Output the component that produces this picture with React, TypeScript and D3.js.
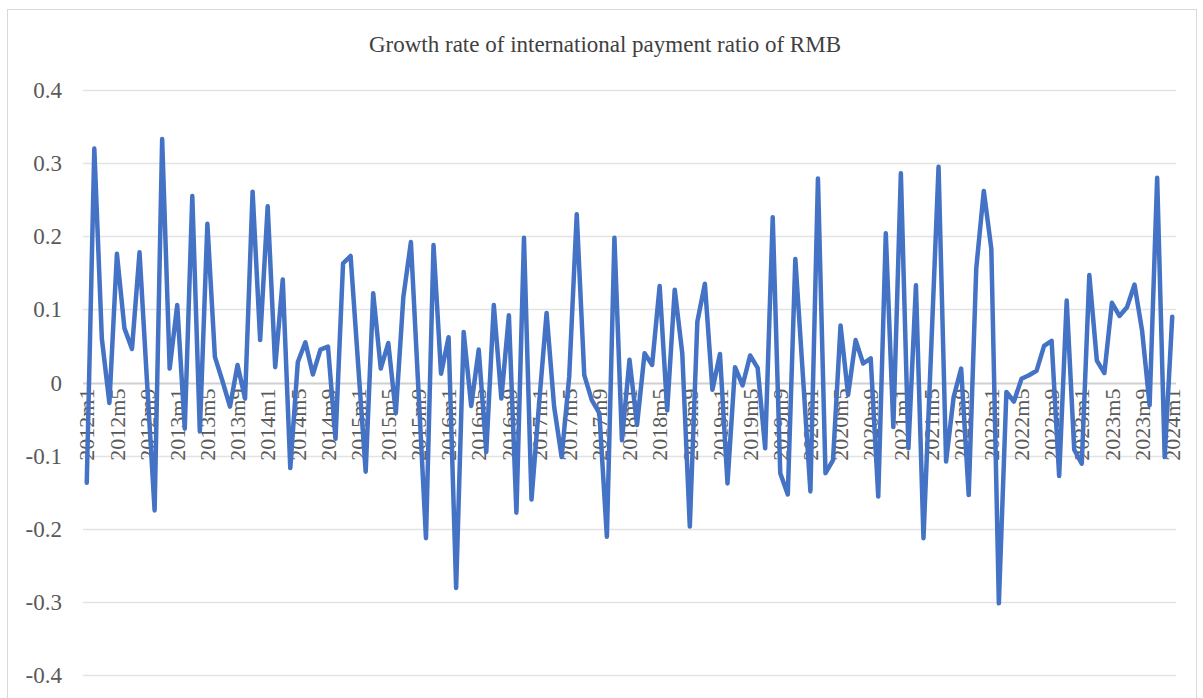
import React, { useEffect, useRef } from "react";
import * as d3 from "d3";

// monthly growth rate, one array per year
const values2012 = [-0.137, 0.32, 0.06, -0.028, 0.176, 0.074, 0.046, 0.178, 0.0, -0.175, 0.333, 0.019];
const values2013 = [0.106, -0.063, 0.255, -0.067, 0.217, 0.035, 0.002, -0.033, 0.024, -0.022, 0.261, 0.058];
const values2014 = [0.241, 0.021, 0.141, -0.117, 0.028, 0.055, 0.011, 0.045, 0.049, -0.077, 0.163, 0.173];
const values2015 = [0.025, -0.122, 0.122, 0.019, 0.054, -0.042, 0.117, 0.192, -0.01, -0.213, 0.188, 0.012];
const values2016 = [0.062, -0.281, 0.069, -0.032, 0.045, -0.095, 0.106, -0.022, 0.092, -0.178, 0.198, -0.16];
const values2017 = [-0.03, 0.095, -0.033, -0.102, 0.008, 0.23, 0.01, -0.024, -0.042, -0.211, 0.198, -0.079];
const values2018 = [0.031, -0.058, 0.04, 0.024, 0.132, -0.038, 0.127, 0.04, -0.197, 0.083, 0.135, -0.01];
const values2019 = [0.039, -0.138, 0.021, -0.004, 0.037, 0.02, -0.09, 0.226, -0.124, -0.153, 0.169, 0.01];
const values2020 = [-0.149, 0.279, -0.124, -0.106, 0.078, -0.017, 0.058, 0.026, 0.033, -0.156, 0.204, -0.061];
const values2021 = [0.286, -0.09, 0.133, -0.213, 0.04, 0.295, -0.108, -0.02, 0.019, -0.154, 0.156, 0.262];
const values2022 = [0.183, -0.302, -0.013, -0.026, 0.005, 0.01, 0.016, 0.05, 0.057, -0.128, 0.112, -0.092];
const values2023 = [-0.111, 0.147, 0.03, 0.013, 0.109, 0.091, 0.103, 0.134, 0.071, -0.031, 0.28, -0.102];
const values2024 = [0.09];

const years = [2012, 2013, 2014, 2015, 2016, 2017, 2018, 2019, 2020, 2021, 2022, 2023, 2024];
const yTicks = [0.4, 0.3, 0.2, 0.1, 0, -0.1, -0.2, -0.3, -0.4];
const title = "Growth rate of international payment ratio of RMB";

const series = [
  values2012, values2013, values2014, values2015, values2016, values2017, values2018,
  values2019, values2020, values2021, values2022, values2023, values2024,
];

const W = 1203;
const H = 698;
const margin = { left: 83, right: 1176, top: 90, bottom: 675 };
const font = "'Liberation Serif', 'Times New Roman', serif";

const App = () => {
  const ref = useRef<SVGSVGElement>(null);

  useEffect(() => {
    const svg = d3.select(ref.current);
    svg.selectAll("*").remove();

    // categories like 2012m1 ... 2024m1
    const cats: string[] = [];
    const vals: number[] = [];
    series.forEach((arr, yi) => {
      arr.forEach((v, mi) => {
        cats.push(`${years[yi]}m${mi + 1}`);
        vals.push(v);
      });
    });

    const x = d3.scaleBand<string>().domain(cats).range([margin.left, margin.right]);
    const cx = (c: string) => (x(c) as number) + x.bandwidth() / 2;
    const y = d3.scaleLinear().domain([-0.4, 0.4]).range([margin.bottom, margin.top]);

    // frame
    svg
      .append("rect")
      .attr("x", 7.5)
      .attr("y", 9.5)
      .attr("width", 1189)
      .attr("height", 700)
      .attr("fill", "white")
      .attr("stroke", "#d9d9d9")
      .attr("stroke-width", 1);

    // title
    svg
      .append("text")
      .attr("x", 605)
      .attr("y", 52)
      .attr("text-anchor", "middle")
      .style("font-family", font)
      .style("font-size", "23px")
      .attr("fill", "#404040")
      .text(title);

    // grid
    svg
      .append("g")
      .selectAll("line")
      .data(yTicks)
      .join("line")
      .attr("x1", margin.left)
      .attr("x2", margin.right)
      .attr("y1", (d) => Math.round(y(d)) + 0.5)
      .attr("y2", (d) => Math.round(y(d)) + 0.5)
      .attr("stroke", (d) => (d === 0 ? "#d0d0d0" : "#e3e3e3"))
      .attr("stroke-width", (d) => (d === 0 ? 2 : 1.5));

    // y labels
    svg
      .append("g")
      .selectAll("text")
      .data(yTicks)
      .join("text")
      .attr("x", 62)
      .attr("y", (d) => y(d))
      .attr("dy", "0.35em")
      .attr("text-anchor", "end")
      .style("font-family", font)
      .style("font-size", "23px")
      .attr("fill", "#595959")
      .text((d) => (d === 0 ? "0" : d.toFixed(1)));

    // x labels, every 4 months
    const labelCats = cats.filter((_, i) => i % 4 === 0);
    svg
      .append("g")
      .selectAll("text")
      .data(labelCats)
      .join("text")
      .attr("transform", (d) => `translate(${cx(d)},${y(0) + 6}) rotate(-90)`)
      .attr("dy", "0.35em")
      .attr("text-anchor", "end")
      .style("font-family", font)
      .style("font-size", "22px")
      .attr("fill", "#595959")
      .text((d) => d);

    // line
    const line = d3
      .line<number>()
      .x((_, i) => cx(cats[i]))
      .y((d) => y(d));

    svg
      .append("path")
      .datum(vals)
      .attr("d", line)
      .attr("fill", "none")
      .attr("stroke", "#4472C4")
      .attr("stroke-width", 4.5)
      .attr("stroke-linejoin", "round")
      .attr("stroke-linecap", "round");
  }, []);

  return (
    <svg
      ref={ref}
      width={W}
      height={H}
      style={{ position: "absolute", left: 0, top: 0, background: "white" }}
    />
  );
};

export default App;
